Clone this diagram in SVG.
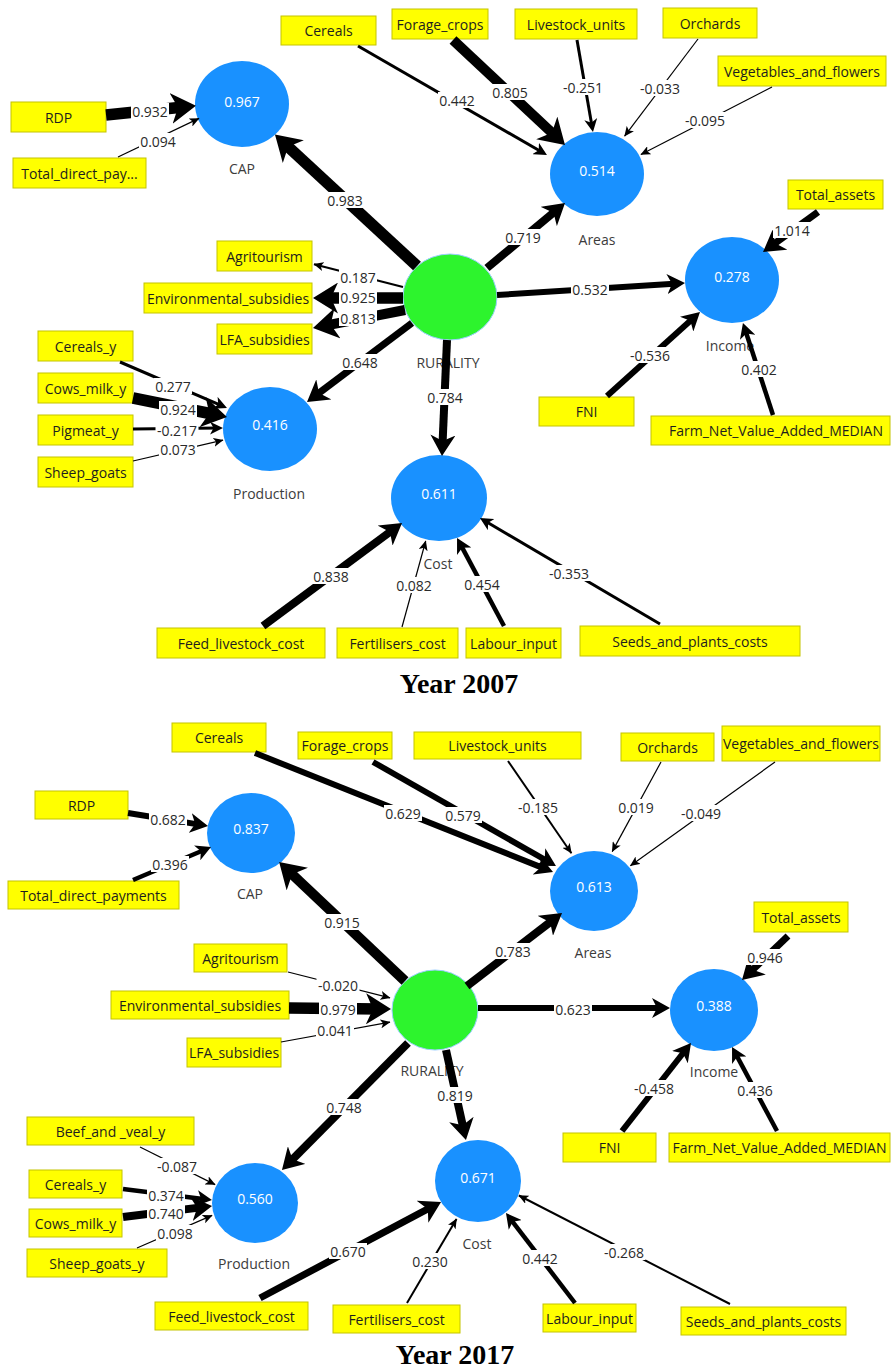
<svg xmlns="http://www.w3.org/2000/svg" width="891" height="1371" viewBox="0 0 891 1371">
<defs>
<style>
text{font-family:"Open Sans","Noto Sans","DejaVu Sans",sans-serif;font-size:14px;text-anchor:middle;dominant-baseline:central}
.box rect{fill:#ffff00;stroke:#c4c400;stroke-width:1}
.box text{fill:#1e1e1e}
.lv ellipse{fill:#1991ff}
.rur ellipse{fill:#2df42d;stroke:#9ccfff;stroke-width:1}
.v{fill:#ffffff}
.nl{fill:#3c3c3c}
.c line{stroke:#000;fill:none}
.w1{stroke-width:1.2}.w2{stroke-width:2}.w3{stroke-width:3}.w4{stroke-width:4.5}.w6{stroke-width:6}.w7{stroke-width:7}.w8{stroke-width:8}.w10{stroke-width:10}.w11{stroke-width:11.5}
.lb rect{fill:#fff}
.lb text{fill:#2a2a2a}
.title{font-family:"Liberation Serif","Times New Roman",serif;font-weight:bold;font-size:28px;fill:#000}
</style>
<marker id="a1" markerUnits="userSpaceOnUse" viewBox="0 0 10 9" markerWidth="10" markerHeight="9" refX="9.5" refY="4.5" orient="auto"><path d="M0,0L10,4.5L0,9L2.5,4.5Z" fill="#000"/></marker>
<marker id="a3" markerUnits="userSpaceOnUse" viewBox="0 0 13 13" markerWidth="13" markerHeight="13" refX="9" refY="6.5" orient="auto"><path d="M0,0L13,6.5L0,13L3.5,6.5Z" fill="#000"/></marker>
<marker id="a4" markerUnits="userSpaceOnUse" viewBox="0 0 15 16" markerWidth="15" markerHeight="16" refX="10" refY="8" orient="auto"><path d="M0,0L15,8L0,16L4,8Z" fill="#000"/></marker>
<marker id="a6" markerUnits="userSpaceOnUse" viewBox="0 0 18 20" markerWidth="18" markerHeight="20" refX="11" refY="10" orient="auto"><path d="M0,0L18,10L0,20L5,10Z" fill="#000"/></marker>
<marker id="a8" markerUnits="userSpaceOnUse" viewBox="0 0 21 25" markerWidth="21" markerHeight="25" refX="12" refY="12.5" orient="auto"><path d="M0,0L21,12.5L0,25L6,12.5Z" fill="#000"/></marker>
<marker id="a11" markerUnits="userSpaceOnUse" viewBox="0 0 25 31" markerWidth="25" markerHeight="31" refX="15" refY="15.5" orient="auto"><path d="M0,0L25,15.5L0,31L7,15.5Z" fill="#000"/></marker>
</defs>
<rect x="0" y="0" width="891" height="1371" fill="#ffffff"/>

<!-- ================= 2007 ================= -->
<g id="nodes-2007">
<g id="n07-CAP" class="lv"><ellipse cx="242" cy="104" rx="47" ry="43"/><text class="v" x="242" y="101">0.967</text><text class="nl" x="242" y="168">CAP</text></g>
<g id="n07-Areas" class="lv"><ellipse cx="597" cy="174" rx="47" ry="42"/><text class="v" x="597" y="170">0.514</text><text class="nl" x="597" y="239">Areas</text></g>
<g id="n07-Income" class="lv"><ellipse cx="732" cy="280" rx="47" ry="43"/><text class="v" x="732" y="276">0.278</text><text class="nl" x="730" y="345">Income</text></g>
<g id="n07-RURALITY" class="rur"><ellipse cx="450" cy="297" rx="47" ry="43"/><text class="nl" x="448" y="362">RURALITY</text></g>
<g id="n07-Production" class="lv"><ellipse cx="270" cy="429" rx="47" ry="42"/><text class="v" x="270" y="424">0.416</text><text class="nl" x="269" y="493">Production</text></g>
<g id="n07-Cost" class="lv"><ellipse cx="439" cy="498" rx="48" ry="43"/><text class="v" x="439" y="493">0.611</text><text class="nl" x="438" y="563">Cost</text></g>
<g id="n07-Cereals" class="box"><rect x="281" y="16" width="95" height="29"/><text x="328.5" y="30.5">Cereals</text></g>
<g id="n07-Forage_crops" class="box"><rect x="392" y="9" width="96" height="30"/><text x="440" y="24">Forage_crops</text></g>
<g id="n07-Livestock_units" class="box"><rect x="515" y="9" width="122" height="30"/><text x="576" y="24">Livestock_units</text></g>
<g id="n07-Orchards" class="box"><rect x="663" y="8" width="94" height="30"/><text x="710" y="23">Orchards</text></g>
<g id="n07-Vegetables_and_flowers" class="box"><rect x="718" y="56" width="168" height="30"/><text x="802" y="71">Vegetables_and_flowers</text></g>
<g id="n07-RDP" class="box"><rect x="11" y="102" width="95" height="30"/><text x="58.5" y="117">RDP</text></g>
<g id="n07-Total_direct_payments" class="box"><rect x="13" y="158" width="133" height="30"/><text x="79.5" y="173">Total_direct_pay...</text></g>
<g id="n07-Total_assets" class="box"><rect x="788" y="180" width="95" height="29"/><text x="835.5" y="194.5">Total_assets</text></g>
<g id="n07-Agritourism" class="box"><rect x="217" y="241" width="95" height="30"/><text x="264.5" y="256">Agritourism</text></g>
<g id="n07-Environmental_subsidies" class="box"><rect x="144" y="283" width="168" height="30"/><text x="228" y="298">Environmental_subsidies</text></g>
<g id="n07-LFA_subsidies" class="box"><rect x="217" y="324" width="95" height="30"/><text x="264.5" y="339">LFA_subsidies</text></g>
<g id="n07-Cereals_y" class="box"><rect x="38" y="331" width="95" height="30"/><text x="85.5" y="346">Cereals_y</text></g>
<g id="n07-Cows_milk_y" class="box"><rect x="38" y="373" width="95" height="30"/><text x="85.5" y="388">Cows_milk_y</text></g>
<g id="n07-Pigmeat_y" class="box"><rect x="38" y="415" width="95" height="30"/><text x="85.5" y="430">Pigmeat_y</text></g>
<g id="n07-Sheep_goats" class="box"><rect x="38" y="457" width="95" height="30"/><text x="85.5" y="472">Sheep_goats</text></g>
<g id="n07-FNI" class="box"><rect x="539" y="397" width="95" height="29"/><text x="586.5" y="411.5">FNI</text></g>
<g id="n07-Farm_Net_Value_Added_MEDIAN" class="box"><rect x="651" y="416" width="239" height="29"/><text x="776" y="430.5">Farm_Net_Value_Added_MEDIAN</text></g>
<g id="n07-Feed_livestock_cost" class="box"><rect x="157" y="628" width="168" height="30"/><text x="241" y="643">Feed_livestock_cost</text></g>
<g id="n07-Fertilisers_cost" class="box"><rect x="337" y="628" width="121" height="30"/><text x="397.5" y="643">Fertilisers_cost</text></g>
<g id="n07-Labour_input" class="box"><rect x="466" y="628" width="95" height="30"/><text x="513.5" y="643">Labour_input</text></g>
<g id="n07-Seeds_and_plants_costs" class="box"><rect x="580" y="626" width="220" height="30"/><text x="690" y="641">Seeds_and_plants_costs</text></g>
</g>

<g id="connectors-2007" class="c">
<line class="w11" x1="106" y1="115" x2="186" y2="106.8" marker-end="url(#a11)"/>
<line class="w1" x1="118" y1="157" x2="199" y2="118.4" marker-end="url(#a1)"/>
<line class="w11" x1="417" y1="266" x2="282.3" y2="141.4" marker-end="url(#a11)"/>
<line class="w3" x1="358" y1="46" x2="543.5" y2="153" marker-end="url(#a3)"/>
<line class="w10" x1="453" y1="40" x2="557.7" y2="138.2" marker-end="url(#a11)"/>
<line class="w3" x1="577" y1="40" x2="592.3" y2="128.1" marker-end="url(#a3)"/>
<line class="w1" x1="698" y1="39" x2="624.6" y2="136.2" marker-end="url(#a1)"/>
<line class="w1" x1="772" y1="87" x2="640.9" y2="154.5" marker-end="url(#a1)"/>
<line class="w8" x1="487" y1="268" x2="558.1" y2="208.8" marker-end="url(#a8)"/>
<line class="w6" x1="497" y1="295" x2="678" y2="283.4" marker-end="url(#a6)"/>
<line class="w7" x1="818" y1="212" x2="770.3" y2="246.7" marker-end="url(#a8)"/>
<line class="w6" x1="607" y1="396" x2="694.8" y2="316.7" marker-end="url(#a6)"/>
<line class="w4" x1="773" y1="415" x2="744.5" y2="327.8" marker-end="url(#a4)"/>
<line class="w2" x1="403" y1="287" x2="314" y2="264.2" marker-end="url(#a1)"/>
<line class="w11" x1="403" y1="298" x2="323" y2="298" marker-end="url(#a11)"/>
<line class="w10" x1="405" y1="310" x2="322.8" y2="326.1" marker-end="url(#a11)"/>
<line class="w7" x1="412" y1="323" x2="314.2" y2="396.6" marker-end="url(#a8)"/>
<line class="w8" x1="447" y1="340" x2="442.4" y2="447" marker-end="url(#a8)"/>
<line class="w3" x1="120" y1="362" x2="223.3" y2="406.4" marker-end="url(#a3)"/>
<line class="w11" x1="133" y1="398" x2="217.2" y2="415" marker-end="url(#a11)"/>
<line class="w3" x1="133" y1="429" x2="219" y2="428" marker-end="url(#a3)"/>
<line class="w1" x1="133" y1="461" x2="223" y2="440.2" marker-end="url(#a1)"/>
<line class="w8" x1="263" y1="626" x2="394.8" y2="528.4" marker-end="url(#a8)"/>
<line class="w1" x1="402" y1="627" x2="425.7" y2="541" marker-end="url(#a1)"/>
<line class="w4" x1="504" y1="626" x2="459.4" y2="542.4" marker-end="url(#a4)"/>
<line class="w3" x1="660" y1="624" x2="483.4" y2="520" marker-end="url(#a3)"/>
<g class="lb">
<rect x="131" y="103" width="38" height="16"/><text x="150" y="111">0.932</text>
<rect x="139" y="133" width="38" height="16"/><text x="158" y="141">0.094</text>
<rect x="326" y="192" width="38" height="16"/><text x="345" y="200">0.983</text>
<rect x="438" y="92" width="38" height="16"/><text x="457" y="100">0.442</text>
<rect x="491" y="84" width="38" height="16"/><text x="510" y="92">0.805</text>
<rect x="561.5" y="79" width="43" height="16"/><text x="583" y="87">-0.251</text>
<rect x="638.5" y="80" width="43" height="16"/><text x="660" y="88">-0.033</text>
<rect x="683.5" y="112" width="43" height="16"/><text x="705" y="120">-0.095</text>
<rect x="504" y="229" width="38" height="16"/><text x="523" y="237">0.719</text>
<rect x="571" y="281" width="38" height="16"/><text x="590" y="289">0.532</text>
<rect x="773" y="222" width="38" height="16"/><text x="792" y="230">1.014</text>
<rect x="628.5" y="347" width="43" height="16"/><text x="650" y="355">-0.536</text>
<rect x="740" y="361" width="38" height="16"/><text x="759" y="369">0.402</text>
<rect x="339" y="269" width="38" height="16"/><text x="358" y="277">0.187</text>
<rect x="339" y="289" width="38" height="16"/><text x="358" y="297">0.925</text>
<rect x="339" y="310" width="38" height="16"/><text x="358" y="318">0.813</text>
<rect x="341" y="354" width="38" height="16"/><text x="360" y="362">0.648</text>
<rect x="426" y="389" width="38" height="16"/><text x="445" y="397">0.784</text>
<rect x="154" y="378" width="38" height="16"/><text x="173" y="386">0.277</text>
<rect x="159" y="401" width="38" height="16"/><text x="178" y="409">0.924</text>
<rect x="155.5" y="422" width="43" height="16"/><text x="177" y="430">-0.217</text>
<rect x="159" y="441" width="38" height="16"/><text x="178" y="449">0.073</text>
<rect x="312" y="568" width="38" height="16"/><text x="331" y="576">0.838</text>
<rect x="395" y="577" width="38" height="16"/><text x="414" y="585">0.082</text>
<rect x="463" y="576" width="38" height="16"/><text x="482" y="584">0.454</text>
<rect x="547.5" y="565" width="43" height="16"/><text x="569" y="573">-0.353</text>
</g>
</g>
<text class="title" x="459" y="683">Year 2007</text>

<!-- ================= 2017 ================= -->
<g id="nodes-2017">
<g id="n17-CAP" class="lv"><ellipse cx="251" cy="833" rx="44" ry="40"/><text class="v" x="251" y="828">0.837</text><text class="nl" x="250" y="893">CAP</text></g>
<g id="n17-Areas" class="lv"><ellipse cx="594" cy="891" rx="44" ry="40"/><text class="v" x="594" y="886">0.613</text><text class="nl" x="593" y="952">Areas</text></g>
<g id="n17-Income" class="lv"><ellipse cx="714" cy="1010" rx="44" ry="41"/><text class="v" x="714" y="1005">0.388</text><text class="nl" x="714" y="1071">Income</text></g>
<g id="n17-RURALITY" class="rur"><ellipse cx="435" cy="1010" rx="43" ry="40"/><text class="nl" x="432" y="1070">RURALITY</text></g>
<g id="n17-Production" class="lv"><ellipse cx="255" cy="1203" rx="43" ry="40"/><text class="v" x="255" y="1198">0.560</text><text class="nl" x="254" y="1263">Production</text></g>
<g id="n17-Cost" class="lv"><ellipse cx="478" cy="1181" rx="43" ry="41"/><text class="v" x="478" y="1177">0.671</text><text class="nl" x="477" y="1243">Cost</text></g>
<g id="n17-Cereals" class="box"><rect x="172" y="723" width="94" height="29"/><text x="219" y="737.5">Cereals</text></g>
<g id="n17-Forage_crops" class="box"><rect x="298" y="732" width="94" height="27"/><text x="345" y="745.5">Forage_crops</text></g>
<g id="n17-Livestock_units" class="box"><rect x="414" y="732" width="167" height="27"/><text x="497.5" y="745.5">Livestock_units</text></g>
<g id="n17-Orchards" class="box"><rect x="621" y="733" width="93" height="28"/><text x="667.5" y="747">Orchards</text></g>
<g id="n17-Vegetables_and_flowers" class="box"><rect x="722" y="726" width="158" height="35"/><text x="801" y="743">Vegetables_and_flowers</text></g>
<g id="n17-RDP" class="box"><rect x="35" y="791" width="93" height="28"/><text x="81.5" y="805">RDP</text></g>
<g id="n17-Total_direct_payments" class="box"><rect x="8" y="881" width="171" height="28"/><text x="93.5" y="895">Total_direct_payments</text></g>
<g id="n17-Total_assets" class="box"><rect x="754" y="902" width="94" height="30"/><text x="801" y="917">Total_assets</text></g>
<g id="n17-Agritourism" class="box"><rect x="194" y="944" width="93" height="28"/><text x="240.5" y="958">Agritourism</text></g>
<g id="n17-Environmental_subsidies" class="box"><rect x="111" y="991" width="178" height="28"/><text x="200" y="1005">Environmental_subsidies</text></g>
<g id="n17-LFA_subsidies" class="box"><rect x="187" y="1038" width="94" height="29"/><text x="234" y="1052.5">LFA_subsidies</text></g>
<g id="n17-Beef_and_veal_y" class="box"><rect x="27" y="1117" width="167" height="28"/><text x="110.5" y="1131">Beef_and _veal_y</text></g>
<g id="n17-Cereals_y" class="box"><rect x="29" y="1170" width="93" height="28"/><text x="75.5" y="1184">Cereals_y</text></g>
<g id="n17-Cows_milk_y" class="box"><rect x="29" y="1209" width="93" height="28"/><text x="75.5" y="1223">Cows_milk_y</text></g>
<g id="n17-Sheep_goats_y" class="box"><rect x="27" y="1249" width="140" height="28"/><text x="97" y="1263">Sheep_goats_y</text></g>
<g id="n17-FNI" class="box"><rect x="563" y="1133" width="93" height="29"/><text x="609.5" y="1147.5">FNI</text></g>
<g id="n17-Farm_Net_Value_Added_MEDIAN" class="box"><rect x="669" y="1133" width="221" height="29"/><text x="779.5" y="1147.5">Farm_Net_Value_Added_MEDIAN</text></g>
<g id="n17-Feed_livestock_cost" class="box"><rect x="155" y="1302" width="153" height="28"/><text x="231.5" y="1316">Feed_livestock_cost</text></g>
<g id="n17-Fertilisers_cost" class="box"><rect x="333" y="1305" width="127" height="28"/><text x="396.5" y="1319">Fertilisers_cost</text></g>
<g id="n17-Labour_input" class="box"><rect x="543" y="1304" width="93" height="28"/><text x="589.5" y="1318">Labour_input</text></g>
<g id="n17-Seeds_and_plants_costs" class="box"><rect x="681" y="1307" width="165" height="28"/><text x="763.5" y="1321">Seeds_and_plants_costs</text></g>
</g>

<g id="connectors-2017" class="c">
<line class="w6" x1="128" y1="813" x2="201.1" y2="824.9" marker-end="url(#a6)"/>
<line class="w4" x1="133" y1="880" x2="206.4" y2="849" marker-end="url(#a4)"/>
<line class="w10" x1="405" y1="981" x2="286.4" y2="868.8" marker-end="url(#a11)"/>
<line class="w6" x1="255" y1="753" x2="546.5" y2="869.4" marker-end="url(#a6)"/>
<line class="w6" x1="373" y1="762" x2="549.9" y2="862.5" marker-end="url(#a6)"/>
<line class="w2" x1="508" y1="761" x2="571.4" y2="853.2" marker-end="url(#a1)"/>
<line class="w1" x1="661" y1="762" x2="612.2" y2="851.6" marker-end="url(#a1)"/>
<line class="w1" x1="775" y1="762" x2="630.4" y2="865.7" marker-end="url(#a1)"/>
<line class="w8" x1="467" y1="986" x2="554.9" y2="918.5" marker-end="url(#a8)"/>
<line class="w6" x1="478" y1="1008" x2="663" y2="1008" marker-end="url(#a6)"/>
<line class="w7" x1="788" y1="936" x2="748.5" y2="973.8" marker-end="url(#a8)"/>
<line class="w6" x1="622" y1="1131" x2="686.7" y2="1048.5" marker-end="url(#a6)"/>
<line class="w4" x1="777" y1="1131" x2="734.4" y2="1051.4" marker-end="url(#a4)"/>
<line class="w1" x1="288" y1="972" x2="390" y2="997.8" marker-end="url(#a1)"/>
<line class="w11" x1="289" y1="1008" x2="381" y2="1009" marker-end="url(#a11)"/>
<line class="w1" x1="281" y1="1042" x2="390" y2="1022.2" marker-end="url(#a1)"/>
<line class="w8" x1="408" y1="1043" x2="288.3" y2="1163.6" marker-end="url(#a8)"/>
<line class="w8" x1="446" y1="1050" x2="464" y2="1131.2" marker-end="url(#a8)"/>
<line class="w1" x1="140" y1="1147" x2="215.1" y2="1184.6" marker-end="url(#a1)"/>
<line class="w4" x1="123" y1="1189" x2="207" y2="1199.4" marker-end="url(#a4)"/>
<line class="w8" x1="123" y1="1217" x2="203.1" y2="1207.1" marker-end="url(#a8)"/>
<line class="w1" x1="137" y1="1248" x2="212.1" y2="1215.4" marker-end="url(#a1)"/>
<line class="w7" x1="260" y1="1298" x2="433.1" y2="1206.2" marker-end="url(#a8)"/>
<line class="w2" x1="407" y1="1303" x2="456.5" y2="1218.9" marker-end="url(#a1)"/>
<line class="w4" x1="575" y1="1303" x2="509" y2="1217" marker-end="url(#a4)"/>
<line class="w2" x1="730" y1="1304" x2="518.9" y2="1195.5" marker-end="url(#a1)"/>
<g class="lb">
<rect x="149" y="811" width="38" height="16"/><text x="168" y="819">0.682</text>
<rect x="151" y="856" width="38" height="16"/><text x="170" y="864">0.396</text>
<rect x="323" y="914" width="38" height="16"/><text x="342" y="922">0.915</text>
<rect x="384" y="805" width="38" height="16"/><text x="403" y="813">0.629</text>
<rect x="444" y="807" width="38" height="16"/><text x="463" y="815">0.579</text>
<rect x="516.5" y="799" width="43" height="16"/><text x="538" y="807">-0.185</text>
<rect x="617" y="799" width="38" height="16"/><text x="636" y="807">0.019</text>
<rect x="679.5" y="805" width="43" height="16"/><text x="701" y="813">-0.049</text>
<rect x="494" y="943" width="38" height="16"/><text x="513" y="951">0.783</text>
<rect x="554" y="1001" width="38" height="16"/><text x="573" y="1009">0.623</text>
<rect x="746" y="949" width="38" height="16"/><text x="765" y="957">0.946</text>
<rect x="632.5" y="1080" width="43" height="16"/><text x="654" y="1088">-0.458</text>
<rect x="736" y="1082" width="38" height="16"/><text x="755" y="1090">0.436</text>
<rect x="316.5" y="977" width="43" height="16"/><text x="338" y="985">-0.020</text>
<rect x="319" y="1001" width="38" height="16"/><text x="338" y="1009">0.979</text>
<rect x="316" y="1022" width="38" height="16"/><text x="335" y="1030">0.041</text>
<rect x="325" y="1099" width="38" height="16"/><text x="344" y="1107">0.748</text>
<rect x="436" y="1087" width="38" height="16"/><text x="455" y="1095">0.819</text>
<rect x="155.5" y="1158" width="43" height="16"/><text x="177" y="1166">-0.087</text>
<rect x="147" y="1187" width="38" height="16"/><text x="166" y="1195">0.374</text>
<rect x="147" y="1205" width="38" height="16"/><text x="166" y="1213">0.740</text>
<rect x="156" y="1225" width="38" height="16"/><text x="175" y="1233">0.098</text>
<rect x="329" y="1243" width="38" height="16"/><text x="348" y="1251">0.670</text>
<rect x="411" y="1253" width="38" height="16"/><text x="430" y="1261">0.230</text>
<rect x="521" y="1250" width="38" height="16"/><text x="540" y="1258">0.442</text>
<rect x="602.5" y="1244" width="43" height="16"/><text x="624" y="1252">-0.268</text>
</g>
</g>
<text class="title" x="455" y="1354">Year 2017</text>
</svg>
